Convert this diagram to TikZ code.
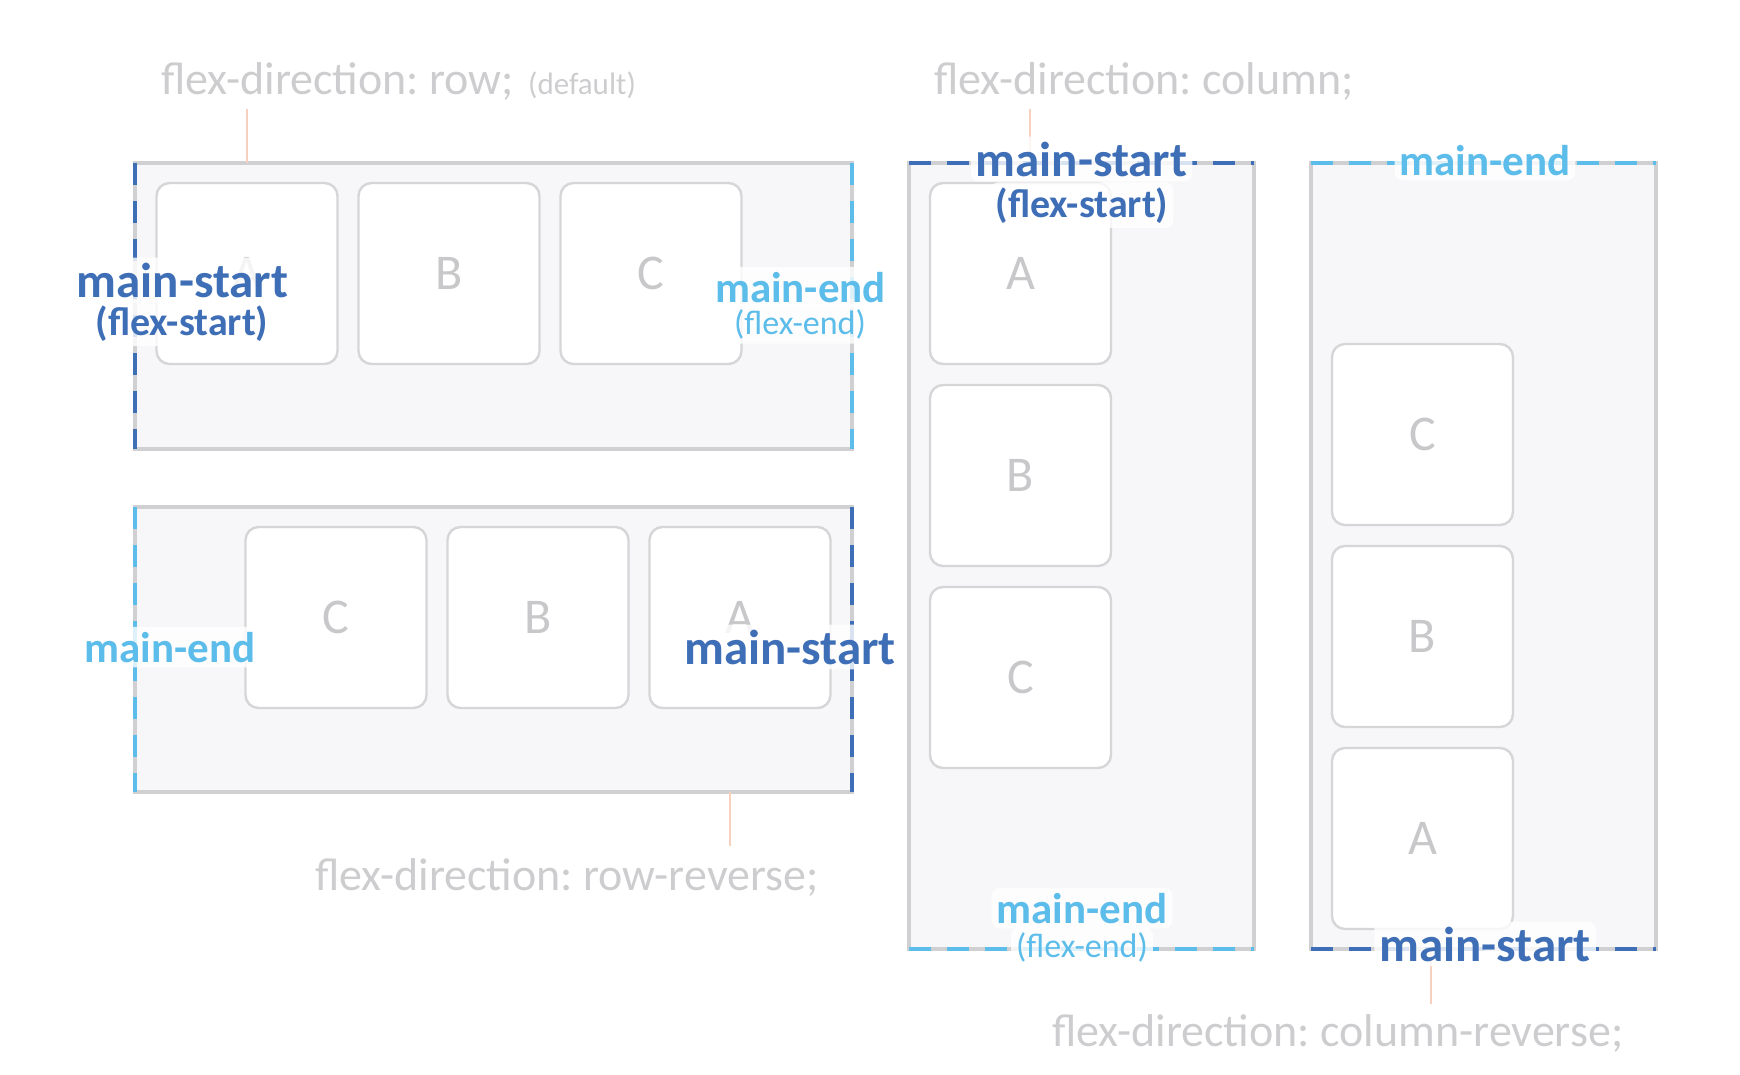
\documentclass[tikz,border=0pt]{standalone}
\usepackage{fontspec}
\setmainfont{Carlito}
\frenchspacing
\usetikzlibrary{positioning}
\definecolor{startblue}{RGB}{62,110,182}
\definecolor{endblue}{RGB}{92,188,234}
\definecolor{edgegray}{RGB}{208,208,210}
\definecolor{boxfill}{RGB}{247,247,249}
\definecolor{itemgray}{RGB}{214,214,216}
\definecolor{lettergray}{RGB}{200,200,202}
\definecolor{titlegray}{RGB}{205,205,207}
\definecolor{tickpeach}{RGB}{248,208,190}

\begin{document}
\begin{tikzpicture}[x=1pt,y=-1pt,node distance=21pt,
    flexbox/.style={draw=edgegray,fill=boxfill,line width=4pt,inner sep=0pt,outer sep=0pt},
    item/.style={draw=itemgray,fill=white,line width=2.4pt,rounded corners=13pt,minimum size=181pt,
                 inner sep=0pt,outer sep=0pt,text=lettergray,font=\fontsize{50}{50}\selectfont},
    title/.style={text=titlegray,inner sep=0pt,anchor=base west,font=\fontsize{46}{50}\selectfont},
    startedge/.style={draw=startblue,line width=4.5pt,dash pattern=on 22pt off 16pt},
    endedge/.style={draw=endblue,line width=4.5pt,dash pattern=on 22pt off 16pt},
    halo/.style={fill=white,fill opacity=0.8,text opacity=1,inner sep=5pt,rounded corners=8pt,anchor=base},
    bigstart/.style={halo,text=startblue,font=\bfseries\fontsize{49}{50}\selectfont},
    bigend/.style={halo,text=endblue,font=\bfseries\fontsize{43}{50}\selectfont},
    substart/.style={halo,text=startblue,font=\bfseries\fontsize{40}{44}\selectfont},
    subend/.style={halo,text=endblue,font=\fontsize{34}{38}\selectfont},
    tick/.style={draw=tickpeach,line width=1.2pt}]
  \useasboundingbox (0,0) rectangle (1740,1074);

  % captions and their ticks
  \node[title] (t-row) at (161,94) {flex-direction: row;};
  \node[title,font=\fontsize{31}{34}\selectfont] (t-def) at (528,94) {(default)};
  \node[title] (t-col) at (934,94) {flex-direction: column;};
  \node[title] (t-rowrev) at (315,890) {flex-direction: row-reverse;};
  \node[title] (t-colrev) at (1052,1046) {flex-direction: column-reverse;};
  \coordinate (k-row) at (247,109);
  \coordinate (k-col) at (1030,109);
  \coordinate (k-rowrev) at (730,846);
  \coordinate (k-colrev) at (1431,1004);

  % containers
  \node[flexbox,minimum width=717pt,minimum height=286pt] (row) at (493.5,306) {};
  \node[flexbox,minimum width=717pt,minimum height=285pt] (rowrev) at (493.5,649.5) {};
  \node[flexbox,minimum width=345pt,minimum height=786pt] (col) at (1081.5,556) {};
  \node[flexbox,minimum width=345pt,minimum height=786pt] (colrev) at (1483.5,556) {};
  \draw[tick] (k-row) -- (k-row |- row.north);
  \draw[tick] (k-col) -- (k-col |- col.north);
  \draw[tick] (k-rowrev) -- (k-rowrev |- rowrev.south);
  \draw[tick] (k-colrev) -- (k-colrev |- colrev.south);

  % main-start / main-end sides
  \draw[startedge] (row.north west) -- (row.south west);
  \draw[endedge] (row.north east) -- (row.south east);
  \draw[endedge] (rowrev.north west) -- (rowrev.south west);
  \draw[startedge] (rowrev.north east) -- (rowrev.south east);
  \draw[startedge] (col.north west) -- (col.north east);
  \draw[endedge] (col.south west) -- (col.south east);
  \draw[endedge] (colrev.north west) -- (colrev.north east);
  \draw[startedge] (colrev.south west) -- (colrev.south east);

  % items
  \node[item] (rA) at (247,273.5) {A};
  \node[item,right=of rA] (rB) {B};
  \node[item,right=of rB] (rC) {C};

  \node[item] (qA) at (740,617.5) {A};
  \node[item,left=of qA] (qB) {B};
  \node[item,left=of qB] (qC) {C};

  \node[item] (cA) at (1020.5,273.5) {A};
  \node[item,below=of cA] (cB) {B};
  \node[item,below=of cB] (cC) {C};

  \node[item] (dA) at (1422.5,838.5) {A};
  \node[item,above=of dA] (dB) {B};
  \node[item,above=of dB] (dC) {C};

  % labels
  \node[bigstart] (row-s) at (182.5,297) {main-start};
  \node[substart] (row-fs) at (182,335) {(flex-start)};
  \node[bigend] (row-e) at (800.5,302) {main-end};
  \node[subend] (row-fe) at (800,334) {(flex-end)};

  \node[bigend] (rr-e) at (170,662) {main-end};
  \node[bigstart] (rr-s) at (790,664) {main-start};

  \node[bigstart] (col-s) at (1081.5,176) {main-start};
  \node[substart] (col-fs) at (1082,217) {(flex-start)};
  \node[bigend] (col-e) at (1082,923) {main-end};
  \node[subend] (col-fe) at (1082,957) {(flex-end)};

  \node[bigend] (cr-e) at (1485,175) {main-end};
  \node[bigstart] (cr-s) at (1485,961) {main-start};
\end{tikzpicture}
\end{document}
